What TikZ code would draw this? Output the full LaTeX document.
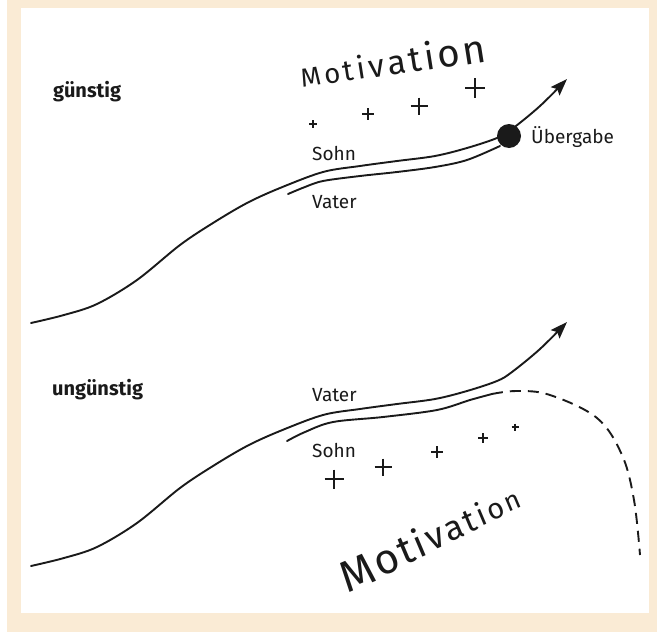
\documentclass[tikz,border=0pt]{standalone}
\usepackage{fontspec}
\setmainfont{Fira Sans}
\usetikzlibrary{arrows.meta}
\definecolor{beige}{RGB}{250,235,213}
\definecolor{ink}{RGB}{26,26,26}
\tikzset{
  curve/.style={line width=1.9pt, draw=ink, line cap=round},
  lbl/.style={font=\fontsize{19}{19}\selectfont, text=ink, anchor=base west, inner sep=0pt},
  headlbl/.style={font=\fontsize{20}{20}\selectfont\bfseries, text=ink, anchor=base west, inner sep=0pt},
  tipend/.style={-{Stealth[length=17pt,width=12pt,inset=3pt]}},
  dashcurve/.style={line width=1.9pt, draw=ink, dash pattern=on 11pt off 7pt},
}
\newcommand\plussign[4]{\draw[ink,line width=#4pt] ({#1-#3},#2) -- ({#1+#3},#2) (#1,{#2-#3}) -- (#1,{#2+#3});}
\newcommand\mletter[6]{\node[rotate=#4,anchor=base,inner sep=0pt,text=ink,font=\fontsize{#3}{#3}\selectfont] (#6) at (#1,#2) {#5};}
\begin{document}
\begin{tikzpicture}[x=1pt,y=-1pt]
\useasboundingbox (0,0) rectangle (657,632);
\fill[beige] (6.7,0) rectangle (657,632);
\fill[white] (21,8.3) rectangle (649,613);

% ---------- günstig ----------
\node[headlbl] (g) at (53,97) {günstig};
\draw[curve,tipend] plot[smooth,tension=0.55] coordinates {(31,323) (64,315) (97,304) (137,280) (180,245) (213,223) (247,203) (280,188) (323,172) (360,166) (397,161) (435,156) (467,148) (497,138) (512,129) (540,106) (567,79)};
\draw[curve] plot[smooth,tension=0.55] coordinates {(288,194) (305,187) (323,181) (360,176) (397,172) (435,167) (467,160) (500,146)};
\node[circle,fill=ink,minimum size=24pt,inner sep=0pt] (hand) at (509,136) {};
\node[lbl] (s1) at (312,160) {Sohn};
\node[lbl] (v1) at (312,208) {Vater};
\node[lbl] (ue) at (531,143) {Übergabe};
\plussign{313}{124}{4}{1.3}
\plussign{368}{114}{6}{1.7}
\plussign{419}{106}{8.5}{2.4}
\plussign{475}{88}{10}{2.7}
\mletter{312.1}{85.7}{26}{9}{M}{a1}
\mletter{333.5}{82.8}{27.6}{9}{o}{a2}
\mletter{350.0}{80.6}{29.1}{9}{t}{a3}
\mletter{362.7}{78.9}{30.7}{9}{i}{a4}
\mletter{378.5}{76.8}{32.2}{9}{v}{a5}
\mletter{398.7}{74.1}{33.8}{9}{a}{a6}
\mletter{417.2}{71.7}{35.3}{9}{t}{a7}
\mletter{431.8}{69.7}{36.9}{9}{i}{a8}
\mletter{451.0}{67.2}{38.4}{9}{o}{a9}
\mletter{476.5}{63.8}{40}{9}{n}{a10}

% ---------- ungünstig ----------
\node[headlbl] (u) at (52,395) {ungünstig};
\begin{scope}[shift={(0,243)}]
\draw[curve,tipend] plot[smooth,tension=0.55] coordinates {(31,323) (64,315) (97,304) (137,280) (180,245) (213,223) (247,203) (280,188) (323,172) (360,166) (397,161) (435,156) (467,148) (497,138) (512,129) (540,106) (567,79)};
\end{scope}
\draw[curve] plot[smooth,tension=0.55] coordinates {(287,441) (305,432) (333,422) (383,417) (437,410) (470,400) (492,394)};
\draw[dashcurve] plot[smooth,tension=0.6] coordinates {(492,394) (517,391) (550,395) (597,418) (622,455) (634,500) (640,555)};
\node[lbl] (v2) at (312,401) {Vater};
\node[lbl] (s2) at (312,457) {Sohn};
\plussign{334}{479}{9.5}{2.7}
\plussign{383}{467}{8.5}{2.5}
\plussign{437}{452}{6}{1.8}
\plussign{483}{438}{5}{1.4}
\plussign{515}{427}{3.5}{1.1}
\mletter{363.3}{587.2}{44}{23}{M}{b1}
\mletter{391.7}{572.7}{42.1}{23}{o}{b2}
\mletter{411.2}{562.8}{40.2}{23}{t}{b3}
\mletter{424.6}{556.0}{38.3}{23}{i}{b4}
\mletter{439.9}{548.2}{36.4}{23}{v}{b5}
\mletter{458.5}{538.7}{34.6}{23}{a}{b6}
\mletter{474.1}{530.8}{32.7}{23}{t}{b7}
\mletter{485.4}{525.0}{30.8}{23}{i}{b8}
\mletter{498.8}{518.1}{28.9}{23}{o}{b9}
\mletter{515.5}{509.7}{27}{23}{n}{b10}
\end{tikzpicture}
\end{document}
